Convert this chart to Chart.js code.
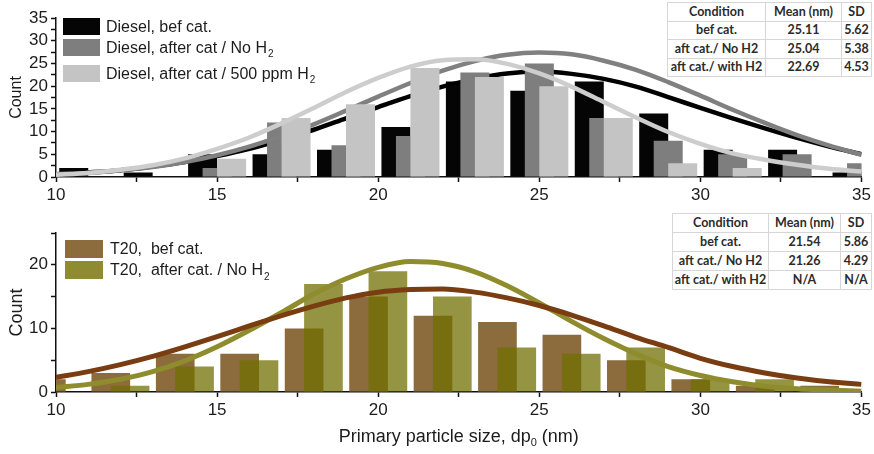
<!DOCTYPE html>
<html>
<head>
<meta charset="utf-8">
<script src="https://cdn.jsdelivr.net/npm/chart.js@4/dist/chart.umd.min.js"></script>
<style>
html,body{margin:0;padding:0;background:#fff;}
#wrap{position:relative;width:874px;height:454px;overflow:hidden;background:#fff;}
canvas{position:absolute;left:0;}
table.stats{position:absolute;border-collapse:collapse;font-family:Lato,"Liberation Sans",sans-serif;font-weight:bold;font-size:12.5px;color:#2b2b2b;background:#fff;table-layout:fixed;}
table.stats td{border:1px solid #d6d6d6;text-align:center;padding:0;white-space:nowrap;overflow:hidden;line-height:16px;}
</style>
</head>
<body>
<div id="wrap">
  <canvas id="c1" width="874" height="200" style="top:0;width:874px;height:200px"></canvas>
  <canvas id="c2" width="874" height="254" style="top:200px;width:874px;height:254px"></canvas>
  <table class="stats" id="t1" style="left:667px;top:2px;width:204px"></table>
  <table class="stats" id="t2" style="left:672px;top:213px;width:199px"></table>
</div>
<script>
// ---------- DATA ----------
// Top panel (Diesel): histogram group centres (nm) and counts
const dieselBins      = [11, 13, 15, 17, 19, 21, 23, 25, 27, 29, 31, 33, 35];
const dieselBefCat    = [2, 1, 5, 5, 6, 11, 21, 19, 21, 14, 6, 6, 1];
const dieselAftNoH2   = [0, 0, 2, 12, 7, 9, 23, 25, 13, 8, 5, 5, 3];
const dieselAft500H2  = [0, 0, 4, 13, 16, 24, 22, 20, 13, 3, 2, 0, 0];

// Fitted distribution curves (x = 10..35)
const curveX          = [10,11,12,13,14,15,16,17,18,19,20,21,22,23,24,25,26,27,28,29,30,31,32,33,34,35];
const dieselBefFit    = [0.6,1.0,1.5,2.3,3.3,4.6,6.2,8.2,10.4,12.9,15.4,17.8,19.9,21.6,22.8,23.2,22.7,21.6,19.9,17.6,15.2,12.9,10.7,8.6,6.7,5.0];
const dieselNoH2Fit   = [0.6,0.9,1.5,2.2,3.3,4.8,6.7,9.0,11.6,14.6,17.7,20.7,23.4,25.5,26.9,27.4,27.0,25.6,23.6,20.9,17.9,14.8,11.9,9.2,6.9,4.9];
const diesel500Fit    = [0.5,0.9,1.6,2.6,4.1,6.2,8.7,11.8,15.2,18.7,21.8,24.3,25.7,25.9,24.9,22.8,19.9,16.5,13.1,9.9,7.3,5.2,3.8,2.7,1.8,1.2];

// Bottom panel (T20)
const t20Bins         = [10, 12, 14, 16, 18, 20, 22, 24, 26, 28, 30, 32, 34];
const t20BefCat       = [2, 3, 6, 6, 10, 15, 12, 11, 9, 5, 2, 1, 1];
const t20AftNoH2      = [0, 1, 4, 5, 17, 19, 15, 7, 6, 7, 2, 2, 0];
const t20BefFit       = [2.3,3.2,4.3,5.6,7.1,8.7,10.4,12.0,13.5,14.8,15.7,16.1,16.2,15.7,14.8,13.6,12.1,10.4,8.6,7.0,5.3,4.0,3.0,2.2,1.6,1.2];
const t20NoH2Fit      = [0.7,1.2,2.0,3.2,4.9,7.1,9.7,12.5,15.4,17.8,19.6,20.5,20.2,18.9,16.7,14.0,11.1,8.4,6.0,4.0,2.6,1.6,0.9,0.5,0.3,0.1];

// Axis ticks
const xTickLabels     = [10, 15, 20, 25, 30, 35];
const topYTickLabels  = [0, 5, 10, 15, 20, 25, 30, 35];
const botYTickLabels  = [0, 10, 20];

// Legends
const topLegendText   = ['Diesel, bef cat.', 'Diesel, after cat / No H', 'Diesel, after cat / 500 ppm H'];
const topLegendSub    = ['', '2', '2'];
const botLegendText   = ['T20,  bef cat.', 'T20,  after cat. / No H'];
const botLegendSub    = ['', '2'];

// Stats tables
const tableHeader     = ['Condition', 'Mean (nm)', 'SD'];
const topConditions   = ['bef cat.', 'aft cat./ No H2', 'aft cat./ with H2'];
const topMeans        = ['25.11', '25.04', '22.69'];
const topSDs          = ['5.62', '5.38', '4.53'];
const botConditions   = ['bef cat.', 'aft cat./ No H2', 'aft cat./ with H2'];
const botMeans        = ['21.54', '21.26', 'N/A'];
const botSDs          = ['5.86', '4.29', 'N/A'];

// ---------- TABLES ----------
function buildTable(id, conds, means, sds, widths, rowH) {
  const t = document.getElementById(id);
  const cg = document.createElement('colgroup');
  widths.forEach(w => { const c = document.createElement('col'); c.style.width = w + 'px'; cg.appendChild(c); });
  t.appendChild(cg);
  const rows = [tableHeader].concat(conds.map((c, i) => [c, means[i], sds[i]]));
  rows.forEach(r => {
    const tr = document.createElement('tr');
    r.forEach(v => { const td = document.createElement('td'); td.textContent = v; td.style.height = rowH + 'px'; tr.appendChild(td); });
    t.appendChild(tr);
  });
}
buildTable('t1', topConditions, topMeans, topSDs, [98, 76, 30], 17.5);
buildTable('t2', botConditions, botMeans, botSDs, [96, 72, 31], 18);

// ---------- HELPERS ----------
const FONT = '"Liberation Sans", Arial, sans-serif';
const pts = (xs, ys, dx) => xs.map((x, i) => ({x: x + dx, y: ys[i]}));

function legendPlugin(texts, subs, colors, cfg) {
  return {
    id: 'customLegend',
    afterDraw(chart) {
      const ctx = chart.ctx;
      ctx.save();
      texts.forEach((txt, i) => {
        const y = cfg.rows[i];
        ctx.fillStyle = colors[i];
        ctx.fillRect(cfg.x, y, cfg.w, cfg.h);
        ctx.font = cfg.size + 'px ' + FONT;
        ctx.fillStyle = '#1c1c1c';
        ctx.textBaseline = 'middle';
        ctx.textAlign = 'left';
        const ty = y + cfg.h / 2 + 1;
        ctx.fillText(txt, cfg.tx, ty);
        if (subs[i]) {
          const w = ctx.measureText(txt).width;
          ctx.font = Math.round(cfg.size * 0.62) + 'px ' + FONT;
          ctx.fillText(subs[i], cfg.tx + w + 1, ty + 6);
        }
      });
      ctx.restore();
    }
  };
}

const xTitlePlugin = {
  id: 'xTitle',
  afterDraw(chart) {
    const ctx = chart.ctx;
    ctx.save();
    const main = 'Primary particle size, dp', sub = '0', tail = ' (nm)';
    const big = '18px ' + FONT, small = '11px ' + FONT;
    ctx.font = big; const w1 = ctx.measureText(main).width, w3 = ctx.measureText(tail).width;
    ctx.font = small; const w2 = ctx.measureText(sub).width;
    const total = w1 + w2 + w3;
    const cx = (chart.chartArea.left + chart.chartArea.right) / 2;
    let x = cx - total / 2;
    const y = 237;
    ctx.fillStyle = '#1c1c1c';
    ctx.textBaseline = 'middle';
    ctx.textAlign = 'left';
    ctx.font = big; ctx.fillText(main, x, y); x += w1;
    ctx.font = small; ctx.fillText(sub, x, y + 6); x += w2;
    ctx.font = big; ctx.fillText(tail, x, y);
    ctx.restore();
  }
};

function xScale(labels, height) {
  return {
    type: 'linear', min: 10, max: 35, offset: false,
    ticks: {
      stepSize: 2.5, autoSkip: false, maxRotation: 0, padding: 3,
      font: {family: 'Liberation Sans', size: 17}, color: '#1c1c1c',
      callback: v => labels.includes(v) ? String(v) : ''
    },
    grid: {display: true, drawOnChartArea: false, drawTicks: true, tickLength: 5, tickColor: '#111', tickWidth: 1.5, offset: false},
    border: {display: true, color: '#111', width: 1.5},
    afterFit: s => { s.height = height; }
  };
}
function yScale(max, step, labels, titleSize) {
  return {
    type: 'linear', min: 0, max: max,
    ticks: {
      stepSize: step, autoSkip: false, padding: 3,
      font: {family: 'Liberation Sans', size: 17}, color: '#1c1c1c',
      callback: v => labels.includes(v) ? String(v) : ''
    },
    grid: {display: true, drawOnChartArea: false, drawTicks: true, tickLength: 5, tickColor: '#111', tickWidth: 1.5},
    border: {display: true, color: '#111', width: 1.5},
    title: {display: true, text: 'Count', font: {family: 'Liberation Sans', size: titleSize}, color: '#1c1c1c', padding: {top: 17 - titleSize * 0.6, bottom: 0}},
    afterFit: s => { s.width = 56; }
  };
}
const barDS = (label, data, color, order) => ({
  type: 'bar', label, data, backgroundColor: color, borderWidth: 0,
  grouped: false, barPercentage: 2, categoryPercentage: 1, order
});
const lineDS = (label, data, color, order, w) => ({
  type: 'line', label, data, borderColor: color, borderWidth: w, pointRadius: 0,
  cubicInterpolationMode: 'monotone', fill: false, order
});

// ---------- TOP CHART ----------
const topColors = {bef: '#050505', noH2: '#7e7e7e', h2: '#c4c4c4'};
new Chart(document.getElementById('c1'), {
  data: {
    datasets: [
      lineDS('fit 500 ppm', pts(curveX, diesel500Fit, 0), '#cdcdcd', 0, 4.5),
      barDS('Diesel, after cat / 500 ppm H2', pts(dieselBins, dieselAft500H2, 0.45), topColors.h2, 1),
      lineDS('fit No H2', pts(curveX, dieselNoH2Fit, 0), '#808080', 2, 4.5),
      barDS('Diesel, after cat / No H2', pts(dieselBins, dieselAftNoH2, 0), topColors.noH2, 3),
      lineDS('fit bef', pts(curveX, dieselBefFit, 0), '#000000', 4, 4.5),
      barDS('Diesel, bef cat.', pts(dieselBins, dieselBefCat, -0.45), topColors.bef, 5)
    ]
  },
  options: {
    responsive: false, animation: false, devicePixelRatio: 1,
    layout: {padding: {left: 0, right: 12, top: 18, bottom: 0}},
    plugins: {legend: {display: false}, tooltip: {enabled: false}},
    scales: {x: xScale(xTickLabels, 23), y: yScale(35, 2.5, topYTickLabels, 16)}
  },
  plugins: [legendPlugin(topLegendText, topLegendSub, [topColors.bef, topColors.noH2, topColors.h2],
    {x: 63, w: 37, h: 17, rows: [18, 39, 65], tx: 106, size: 16})]
});

// ---------- BOTTOM CHART ----------
const botColors = {bef: '#8c6b3c', noH2: 'rgba(112,110,0,0.74)', noH2Legend: '#8f8b30'};
new Chart(document.getElementById('c2'), {
  data: {
    datasets: [
      lineDS('fit bef', pts(curveX, t20BefFit, 0), '#7a3d12', 0, 5),
      lineDS('fit No H2', pts(curveX, t20NoH2Fit, 0), '#8e8c2c', 1, 5),
      barDS('T20, after cat. / No H2', pts(t20Bins, t20AftNoH2, 0.3), botColors.noH2, 2),
      barDS('T20, bef cat.', pts(t20Bins, t20BefCat, -0.3), botColors.bef, 3)
    ]
  },
  options: {
    responsive: false, animation: false, devicePixelRatio: 1,
    layout: {padding: {left: 0, right: 12, top: 33, bottom: 0}},
    plugins: {legend: {display: false}, tooltip: {enabled: false}},
    scales: {x: xScale(xTickLabels, 62), y: yScale(25, 5, botYTickLabels, 18)}
  },
  plugins: [legendPlugin(botLegendText, botLegendSub, [botColors.bef, botColors.noH2Legend],
    {x: 65, w: 38, h: 18, rows: [40, 61], tx: 110, size: 16}), xTitlePlugin]
});
</script>
</body>
</html>
